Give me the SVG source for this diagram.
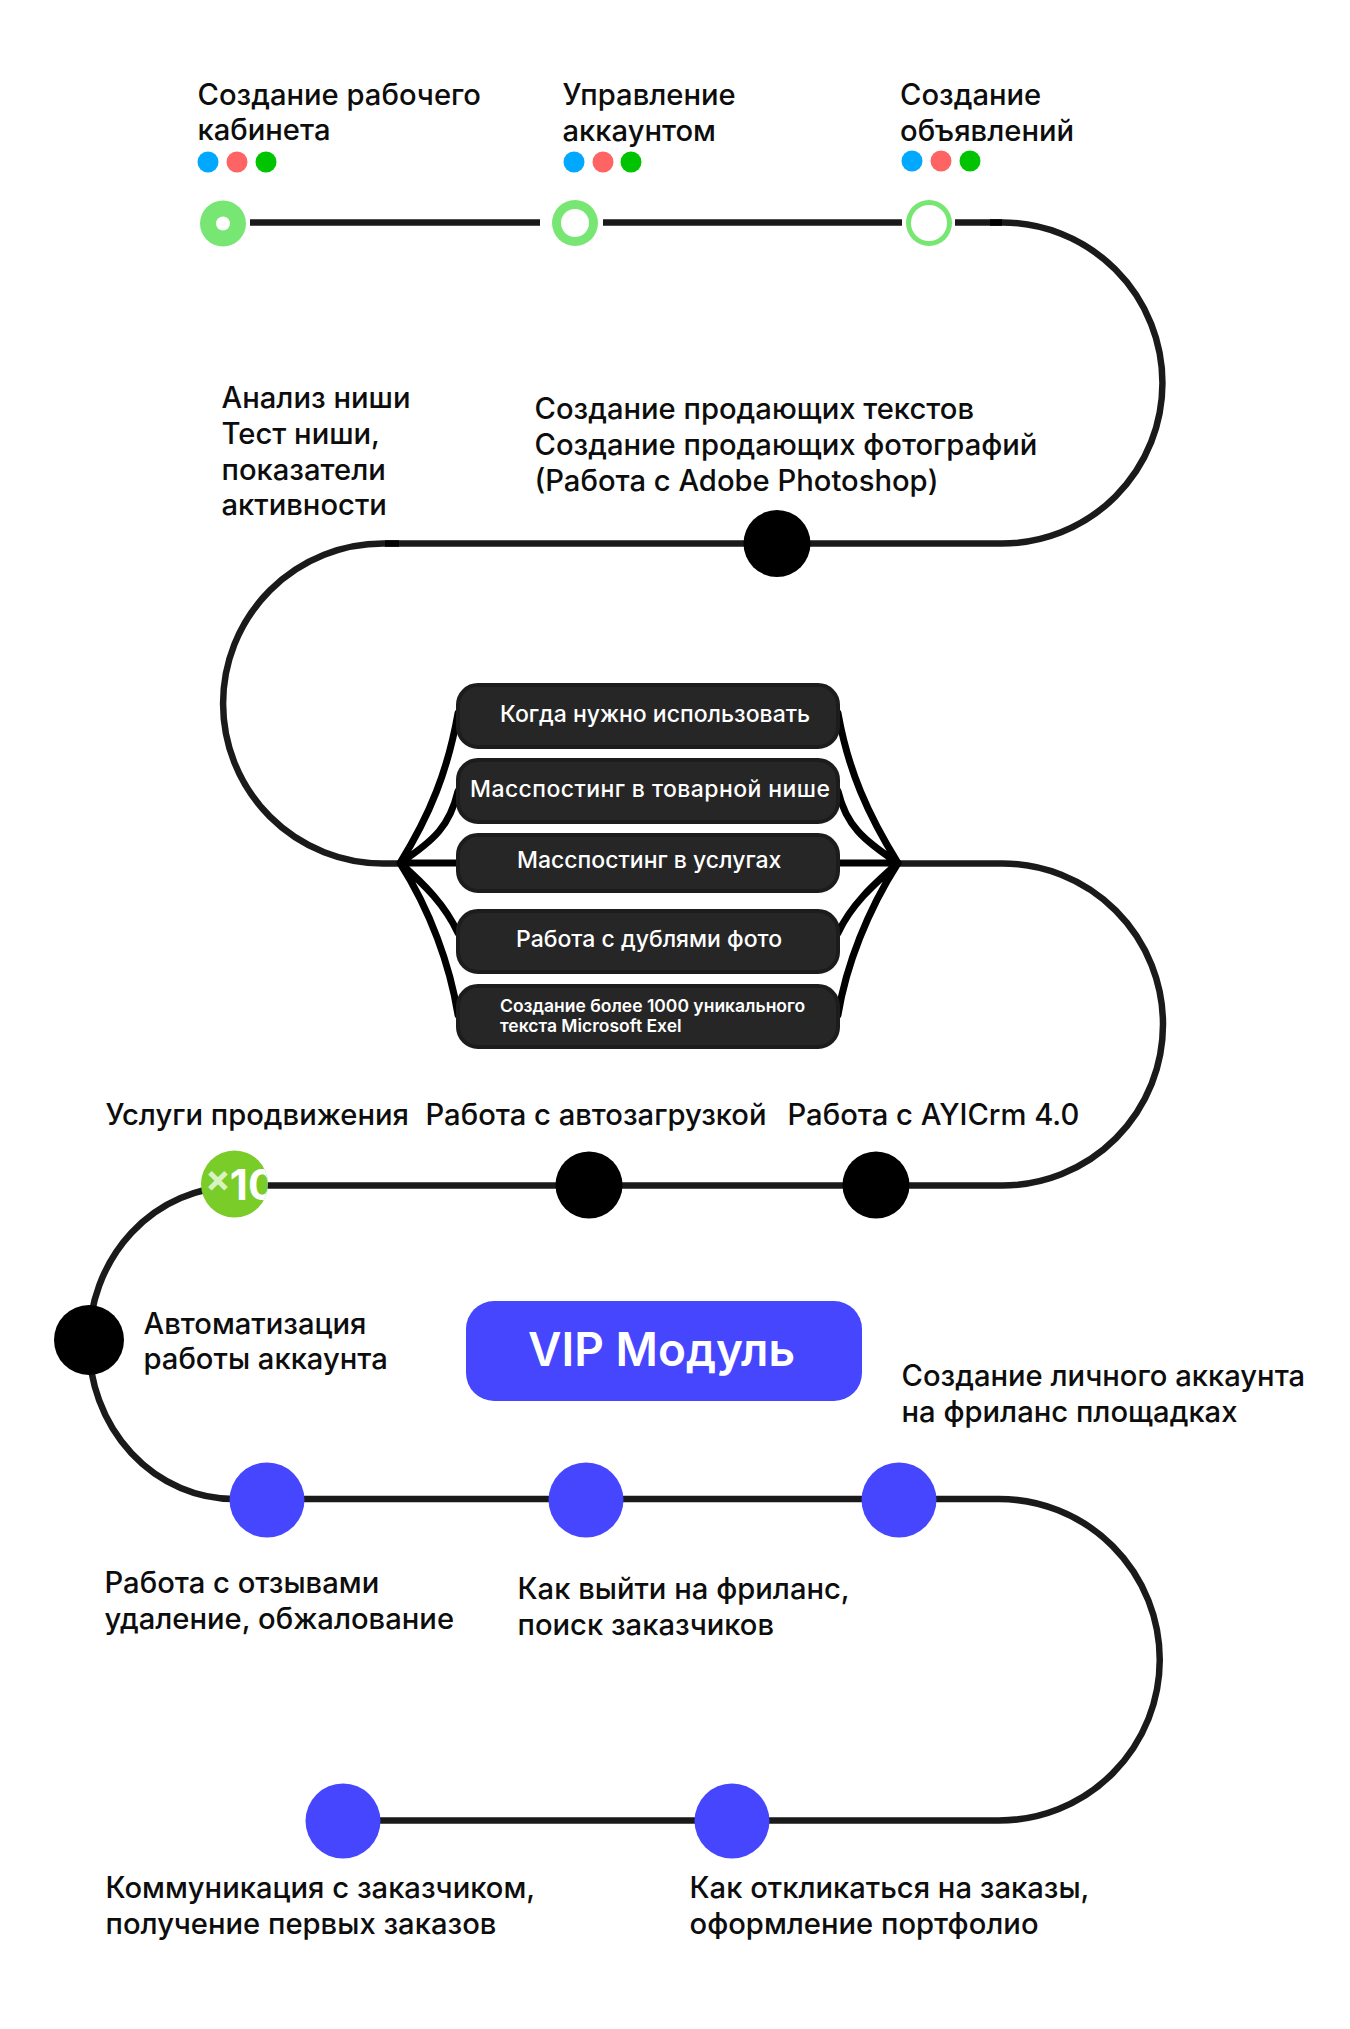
<svg xmlns="http://www.w3.org/2000/svg" width="1350" height="2029" viewBox="0 0 1350 2029">
<defs>
<style>
text{font-family:"Inter","Liberation Sans",sans-serif}
.t{font-size:29.200px;fill:#0d0d0d;font-weight:500}
.w{font-size:23px;fill:#fff;font-weight:500}
.s{font-size:17.500px;fill:#fff;font-weight:600}
.c{fill:none;stroke:#1a1a1a;stroke-width:6.500}
.k{fill:none;stroke:#000;stroke-width:6.500}
.j{fill:none;stroke:#000;stroke-width:7;stroke-linecap:round}
.b{fill:#000}.p{fill:#4646ff}
.g{fill:#77e673}
.box{fill:#262626;stroke:#1c1c1c;stroke-width:4}
.d1{fill:#00a8ff}.d2{fill:#ff6464}.d3{fill:#00c400}
</style>
<clipPath id="cg"><circle cx="234.500" cy="1184" r="33.500"/></clipPath>
</defs>
<rect width="1350" height="2029" fill="#fff"/>
<g id="connectors">
<path class="c" d="M250 222.500H540M603 222.500H902"/>
<path class="c" d="M955 222.500H1002A160.500 160.500 0 0 1 1002 543.500H383A160 160 0 0 0 383 863.500H400"/>
<path class="c" d="M898 863.500H1002A161 161 0 0 1 1002 1185.500H236"/>
<path class="c" d="M234 1187A145 156 0 0 0 234 1499H999A160.750 160.750 0 0 1 999 1820.500H343"/>
<path class="k" d="M990 222.500H1002M385 543.500H399"/>
<path class="j" d="M400 863C430 815 448 770 458 713M400 863C435 840 450 825 458 791M400 863H458M400 863C425 885 445 905 458 933M400 863C430 910 450 965 458 1015"/>
<path class="j" d="M898 863C868 815 848 770 838 713M898 863C863 840 846 825 838 791M898 863H838M898 863C873 885 851 905 838 933M898 863C868 910 846 965 838 1015"/>
</g>
<g id="n1"><circle class="g" cx="223" cy="223.500" r="23"/><circle cx="223" cy="223.500" r="7" fill="#fff"/>
<text class="t" x="197.500" y="104.500">Создание рабочего</text><text class="t" x="197.500" y="140">кабинета</text>
<circle class="d1" cx="208" cy="162" r="10.500"/><circle class="d2" cx="237" cy="162" r="10.500"/><circle class="d3" cx="266" cy="162" r="10.500"/></g>
<g id="n2"><circle class="g" cx="575" cy="223" r="23"/><circle cx="575" cy="223" r="14" fill="#fff"/>
<text class="t" x="562.500" y="105">Управление</text><text class="t" x="562.500" y="140.500">аккаунтом</text>
<circle class="d1" cx="574" cy="162" r="10.500"/><circle class="d2" cx="603" cy="162" r="10.500"/><circle class="d3" cx="631" cy="162" r="10.500"/></g>
<g id="n3"><circle class="g" cx="929" cy="223" r="23"/><circle cx="929" cy="223" r="18" fill="#fff"/>
<text class="t" x="900" y="105">Создание</text><text class="t" x="900" y="140.500">объявлений</text>
<circle class="d1" cx="912" cy="161" r="10.500"/><circle class="d2" cx="941" cy="161" r="10.500"/><circle class="d3" cx="970" cy="161" r="10.500"/></g>
<g id="n4"><text class="t" x="221.500" y="408">Анализ ниши</text><text class="t" x="221.500" y="444">Тест ниши,</text><text class="t" x="221.500" y="479.500">показатели</text><text class="t" x="221.500" y="515">активности</text></g>
<g id="n5"><circle class="b" cx="777" cy="543.500" r="33.500"/>
<text class="t" x="534.500" y="419">Создание продающих текстов</text><text class="t" x="534.500" y="455">Создание продающих фотографий</text><text class="t" x="534.500" y="491">(Работа с Adobe Photoshop)</text></g>
<g id="box1"><rect class="box" x="458" y="685" width="380" height="62" rx="20"/><text class="w" x="500" y="722">Когда нужно использовать</text></g>
<g id="box2"><rect class="box" x="458" y="760" width="380" height="62" rx="20"/><text class="w" x="470" y="797" textLength="360">Масспостинг в товарной нише</text></g>
<g id="box3"><rect class="box" x="458" y="835" width="380" height="56" rx="20"/><text class="w" x="517" y="868">Масспостинг в услугах</text></g>
<g id="box4"><rect class="box" x="458" y="911" width="380" height="61" rx="20"/><text class="w" x="516" y="947">Работа с дублями фото</text></g>
<g id="box5"><rect class="box" x="458" y="986" width="380" height="61" rx="20"/><text class="s" x="500" y="1012">Создание более 1000 уникального</text><text class="s" x="500" y="1032">текста Microsoft Exel</text></g>
<g id="n6"><circle fill="#7acc28" cx="234.500" cy="1184" r="33.500"/>
<text clip-path="url(#cg)" x="205" y="1200" font-size="42" font-weight="700" fill="#fff"><tspan fill="#d8f2c0" font-size="38" dy="-8">×</tspan><tspan dy="8" dx="-1">10</tspan></text>
<text class="t" x="105.500" y="1125">Услуги продвижения</text></g>
<g id="n7"><circle class="b" cx="589" cy="1185" r="33.500"/><text class="t" x="425.500" y="1125">Работа с автозагрузкой</text></g>
<g id="n8"><circle class="b" cx="876" cy="1185" r="33.500"/><text class="t" x="787.500" y="1125">Работа с AYICrm 4.0</text></g>
<g id="n9"><circle class="b" cx="89" cy="1340" r="35"/><text class="t" x="143.500" y="1334">Автоматизация</text><text class="t" x="143.500" y="1369">работы аккаунта</text></g>
<g id="vip"><rect class="p" x="466" y="1301" width="396" height="100" rx="28"/><text x="528" y="1366" font-size="46" font-weight="600" fill="#fff">VIP Модуль</text></g>
<g id="n10"><circle class="p" cx="267" cy="1500" r="37.500"/><text class="t" x="104.500" y="1593">Работа с отзывами</text><text class="t" x="104.500" y="1629">удаление, обжалование</text></g>
<g id="n11"><circle class="p" cx="586" cy="1500" r="37.500"/><text class="t" x="517.500" y="1599">Как выйти на фриланс,</text><text class="t" x="517.500" y="1635">поиск заказчиков</text></g>
<g id="n12"><circle class="p" cx="899" cy="1500" r="37.500"/><text class="t" x="901.500" y="1386">Создание личного аккаунта</text><text class="t" x="901.500" y="1422">на фриланс площадках</text></g>
<g id="n13"><circle class="p" cx="732" cy="1821" r="37.500"/><text class="t" x="689.500" y="1898">Как откликаться на заказы,</text><text class="t" x="689.500" y="1934">оформление портфолио</text></g>
<g id="n14"><circle class="p" cx="343" cy="1821" r="37.500"/><text class="t" x="105.500" y="1898">Коммуникация с заказчиком,</text><text class="t" x="105.500" y="1934">получение первых заказов</text></g>
</svg>
